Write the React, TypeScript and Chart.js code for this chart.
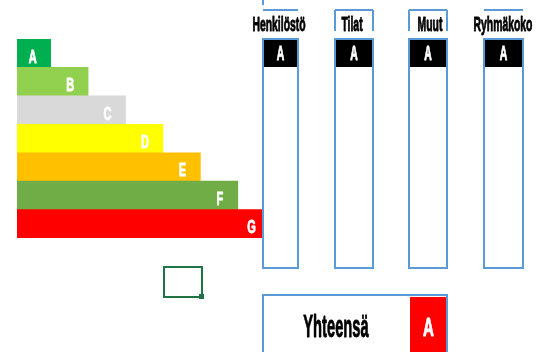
import React, { useEffect, useRef } from "react";
import { Chart, registerables } from "chart.js";

Chart.register(...registerables);

const classes = ["A", "B", "C", "D", "E", "F", "G"];
const classLengths = [0.9, 1.9, 2.9, 3.9, 4.9, 5.9, 6.75];
const classColors = ["#00B050", "#92D050", "#D9D9D9", "#FFFF00", "#FFC000", "#70AD47", "#FF0000"];
const columnTitles = ["Henkilöstö", "Tilat", "Muut", "Ryhmäkoko"];
const columnGrades = ["A", "A", "A", "A"];
const totalLabel = "Yhteensä";
const totalGrade = "A";

const FONT = '"Liberation Sans", Arial, sans-serif';

function condensed(ctx: any, text: string, cx: number, baseline: number, size: number, sx: number, color: string) {
  ctx.save();
  ctx.font = `bold ${size}px ${FONT}`;
  ctx.fillStyle = color;
  ctx.strokeStyle = color;
  ctx.lineWidth = 0.9;
  ctx.lineJoin = "round";
  ctx.textAlign = "center";
  ctx.textBaseline = "alphabetic";
  ctx.translate(cx, baseline);
  ctx.scale(sx, 1);
  ctx.fillText(text, 0, 0);
  ctx.strokeText(text, 0, 0);
  ctx.restore();
}

const decorPlugin = {
  id: "decor",
  afterDatasetsDraw(chart: any) {
    const ctx = chart.ctx;
    const meta = chart.getDatasetMeta(0);
    meta.data.forEach((el: any, i: number) => {
      condensed(ctx, classes[i], el.x - 18, el.y + 9.5, 19, 0.58, "#FFFFFF");
    });
  },
  afterDraw(chart: any) {
    const ctx = chart.ctx;
    ctx.save();
    const blue = "#5B9BD5";
    const lefts = [263, 335, 409, 484];
    const widths = [35, 38, 38, 39];
    const titleCenters = [279, 352, 430, 503];
    ctx.lineWidth = 2;
    lefts.forEach((x, i) => {
      const w = widths[i];
      ctx.strokeStyle = blue;
      ctx.lineWidth = 2;
      ctx.fillStyle = "#FFFFFF";
      ctx.fillRect(x, 39, w, 229);
      ctx.strokeRect(x, 39, w, 229);
      ctx.fillStyle = "#000000";
      ctx.fillRect(x + 1, 40, w - 2, 27);
      condensed(ctx, columnGrades[i], x + w / 2, 60, 20, 0.52, "#FFFFFF");
      // title decorations
      ctx.strokeStyle = blue;
      ctx.lineWidth = 2;
      ctx.beginPath();
      ctx.moveTo(x, 10);
      ctx.lineTo(x + w, 10);
      if (i === 1 || i === 2) {
        ctx.moveTo(x, 10);
        ctx.lineTo(x, 31);
        ctx.moveTo(x + w, 10);
        ctx.lineTo(x + w, 31);
      }
      if (i === 0) {
        ctx.moveTo(x, 0);
        ctx.lineTo(x, 5);
      }
      ctx.stroke();
      condensed(ctx, columnTitles[i], titleCenters[i], 31, 20, 0.52, "#000000");
    });
    // total box
    ctx.strokeStyle = blue;
    ctx.lineWidth = 2;
    ctx.fillStyle = "#FFFFFF";
    ctx.fillRect(263, 295, 184, 70);
    ctx.strokeRect(263, 295, 184, 70);
    ctx.fillStyle = "#FF0000";
    ctx.fillRect(410, 297, 36, 60);
    condensed(ctx, totalLabel, 336, 337, 32, 0.46, "#000000");
    condensed(ctx, totalGrade, 428.5, 336, 26, 0.58, "#FFFFFF");
    // selected cell
    ctx.strokeStyle = "#217346";
    ctx.lineWidth = 2;
    ctx.strokeRect(164, 267, 38, 30);
    ctx.fillStyle = "#217346";
    ctx.fillRect(199, 294, 5, 5);
    ctx.restore();
  },
};

export default function App() {
  const ref = useRef<HTMLCanvasElement>(null);
  useEffect(() => {
    document.body.style.margin = "0";
    const chart = new Chart(ref.current!, {
      type: "bar",
      data: {
        labels: classes,
        datasets: [
          {
            data: classLengths,
            backgroundColor: classColors,
            borderWidth: 0,
            barPercentage: 1,
            categoryPercentage: 1,
          },
        ],
      },
      options: {
        indexAxis: "y",
        animation: false,
        responsive: false,
        layout: { padding: { left: 17, right: 266, top: 39, bottom: 114 } },
        scales: {
          x: { display: false, min: 0, max: 7 },
          y: { display: false },
        },
        plugins: { legend: { display: false }, tooltip: { enabled: false } },
      },
      plugins: [decorPlugin],
    });
    return () => chart.destroy();
  }, []);
  return (
    <div style={{ width: 545, height: 352, background: "#FFFFFF" }}>
      <canvas ref={ref} width={545} height={352} />
    </div>
  );
}
